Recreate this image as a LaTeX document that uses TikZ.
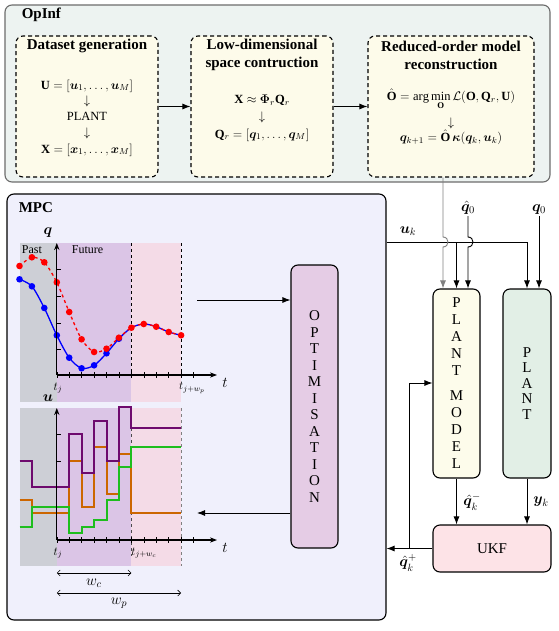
\RequirePackage{fix-cm}
\documentclass[tikz,border=0pt]{standalone}
\usepackage{amsmath}
\usepackage{bm}
\usepackage{fontspec}
\setmainfont{Liberation Serif}
\usetikzlibrary{arrows.meta}

\definecolor{opinffill}{RGB}{237,243,241}
\definecolor{stagefill}{RGB}{253,251,234}
\definecolor{mpcfill}{RGB}{240,240,252}
\definecolor{optfill}{RGB}{229,204,229}
\definecolor{modelfill}{RGB}{253,252,235}
\definecolor{plantfill}{RGB}{226,239,230}
\definecolor{ukffill}{RGB}{253,227,231}
\definecolor{pastband}{RGB}{205,207,214}
\definecolor{futband}{RGB}{219,197,230}
\definecolor{horband}{RGB}{244,219,231}
\definecolor{upurple}{RGB}{110,10,110}
\definecolor{uorange}{RGB}{204,102,0}
\definecolor{ugreen}{RGB}{30,190,30}

\begin{document}
\begin{tikzpicture}[
    x=1pt, y=-1pt,
    >={Latex[length=8pt,width=6pt]},
    line width=0.9pt,
    panel/.style={rectangle, draw, rounded corners=7pt, line width=1.1pt},
    stage/.style={rectangle, draw, dash pattern=on 4pt off 3pt, rounded corners=7pt, fill=stagefill, line width=1.1pt},
    block/.style={rectangle, draw, rounded corners=7pt, line width=1.1pt, align=center, font=\fontsize{15}{16.5}\selectfont},
    heading/.style={font=\fontsize{15}{18}\selectfont\bfseries, align=center},
    eq/.style={font=\fontsize{12.5}{15}\selectfont},
    lbl/.style={font=\fontsize{15}{18}\selectfont, inner sep=1pt},
    ticklbl/.style={font=\fontsize{12}{14}\selectfont, inner sep=1pt},
    signal/.style={line width=2pt}
]
    \useasboundingbox (0,0) rectangle (558,631);

    % OpInf
    \node[panel, draw=gray!85!black, fill=opinffill, minimum width=545pt, minimum height=177pt] (opinf) at (277.5,93.5) {};
    \node[heading, anchor=west] (opinflbl) at (18,15) {OpInf};

    \node[stage, minimum width=142pt, minimum height=141pt] (gen) at (87,106.5) {};
    \node[stage, minimum width=142pt, minimum height=141pt] (space) at (262,106.5) {};
    \node[stage, minimum width=166pt, minimum height=141pt] (rom) at (451,106.5) {};

    \node[heading] (genttl) at (87,46) {Dataset generation};
    \node[eq] (genu) at (87,86) {$\mathbf{U} = [\bm{u}_1, \ldots, \bm{u}_M]$};
    \node[eq] (genar1) at (87,101) {$\downarrow$};
    \node[eq] (genplant) at (87,116) {PLANT};
    \node[eq] (genar2) at (87,133) {$\downarrow$};
    \node[eq] (genx) at (87,150) {$\mathbf{X} = [\bm{x}_1, \ldots, \bm{x}_M]$};

    \node[heading] (spacettl) at (262,55) {Low-dimensional\\space contruction};
    \node[eq] (spacex) at (262,100) {$\mathbf{X} \approx \bm{\Phi}_r \mathbf{Q}_r$};
    \node[eq] (spacear) at (262,117) {$\downarrow$};
    \node[eq] (spaceq) at (262,135) {$\mathbf{Q}_r = [\bm{q}_1, \ldots, \bm{q}_M]$};

    \node[heading] (romttl) at (451,55) {Reduced-order model\\reconstruction};
    \node[eq] (romo) at (451,99) {$\hat{\mathbf{O}} = \arg\min\limits_{\mathbf{O}} \mathcal{L}(\mathbf{O}, \mathbf{Q}_r, \mathbf{U})$};
    \node[eq] (romar) at (451,123) {$\downarrow$};
    \node[eq] (romq) at (451,137) {$\bm{q}_{k+1} = \hat{\mathbf{O}}\,\bm{\kappa}(\bm{q}_k, \bm{u}_k)$};

    \draw[->] (gen) -- (space);
    \draw[->] (space) -- (rom);

    % MPC
    \node[panel, fill=mpcfill, minimum width=379pt, minimum height=426pt] (mpc) at (196.5,407) {};
    \node[heading, anchor=west] (mpclbl) at (15,208) {MPC};

    % q plot
    \fill[pastband] (19.5,243) rectangle (56.8,402);
    \fill[futband] (56.8,243) rectangle (131.4,402);
    \fill[horband] (131.4,243) rectangle (181.1,402);
    \draw[dashed, line width=0.8pt] (131.4,243) -- (131.4,378);
    \draw[dashed, line width=0.8pt] (181.1,243) -- (181.1,378);
    \foreach \i in {0,...,11}
        \draw[line width=0.5pt] (56.8+12.43*\i,372) -- ++(0,6);
    \foreach \ty in {269,296,323,349}
        \draw[line width=0.5pt] (56.8,\ty) -- ++(4,0);
    \draw[blue, line width=1.3pt] plot[smooth] coordinates {(19.5,279.3) (31.9,286.3) (44.3,308) (56.8,335.3) (69.2,357.7) (81.6,368.3) (94.1,365.3) (106.5,353.3) (118.9,338.7) (131.4,327.7) (143.8,324) (156.2,326.7) (168.7,332) (181.1,335.3)};
    \draw[red, dashed, line width=1.3pt] plot[smooth] coordinates {(19.5,266) (31.9,257.3) (44.3,262.3) (56.8,282.3) (69.2,312) (81.6,339.3) (94.1,352) (106.5,348.7) (118.9,337.7) (131.4,327.7) (143.8,324) (156.2,326.7) (168.7,332) (181.1,335.3)};
    \foreach \px/\py in {19.5/279.3, 31.9/286.3, 44.3/308, 56.8/335.3, 69.2/357.7, 81.6/368.3, 94.1/365.3, 106.5/353.3, 118.9/338.7}
        \fill[blue] (\px,\py) circle (3.3pt);
    \foreach \px/\py in {19.5/266, 31.9/257.3, 44.3/262.3, 56.8/282.3, 69.2/312, 81.6/339.3, 94.1/352, 106.5/348.7, 118.9/337.7, 131.4/327.7, 143.8/324, 156.2/326.7, 168.7/332, 181.1/335.3}
        \fill[red] (\px,\py) circle (3.3pt);
    \draw[-{Stealth[length=7pt]}, line width=1.3pt] (56.8,375) -- (217,375);
    \draw[-{Stealth[length=7pt]}, line width=1.3pt] (56.8,375) -- (56.8,243);
    \node[lbl] (qaxis) at (48,233) {$\bm{q}$};
    \node[lbl] (taxisq) at (225,383) {$t$};
    \node[ticklbl] (past) at (32,250) {Past};
    \node[ticklbl] (future) at (87.5,250) {Future};
    \node[ticklbl] (tjq) at (58,388) {$t_j$};
    \node[ticklbl] (tjwp) at (192,388) {$t_{j+w_p}$};

    % u plot
    \fill[pastband] (19.5,408) rectangle (56.8,566);
    \fill[futband] (56.8,408) rectangle (131.4,566);
    \fill[horband] (131.4,408) rectangle (181.1,566);
    \draw[dashed, line width=0.8pt, gray!60!black] (131.4,428) -- (131.4,556);
    \draw[dashed, line width=0.8pt, gray] (181.1,408) -- (181.1,566);
    \foreach \i in {0,...,11}
        \draw[line width=0.5pt] (56.8+12.43*\i,537) -- ++(0,6);
    \foreach \ty in {434,461}
        \draw[line width=0.5pt] (56.8,\ty) -- ++(4,0);
    \draw[signal, uorange] (19.5,500) -| (31.9,513.3) -| (69.2,460.7) -| (81.6,506.7) -| (94.1,447.3) -| (106.5,494) -| (118.9,454) -| (131.4,513.3) -- (181.1,513.3);
    \draw[signal, ugreen] (19.5,526.7) -| (31.9,506.7) -| (69.2,533.3) -| (81.6,526.7) -| (94.1,520) -| (106.5,500) -| (118.9,467.3) -| (131.4,447.3) -- (181.1,447.3);
    \draw[signal, upurple] (19.5,460.7) -| (31.9,487.3) -| (69.2,434) -| (81.6,473.3) -| (94.1,421) -| (106.5,460.7) -| (118.9,407.3) -| (131.4,427.7) -- (181.1,427.7);
    \draw[-{Stealth[length=7pt]}, line width=1.3pt] (56.8,540) -- (217,540);
    \draw[-{Stealth[length=7pt]}, line width=1.3pt] (56.8,540) -- (56.8,408);
    \node[lbl] (uaxis) at (48,398) {$\bm{u}$};
    \node[lbl] (taxisu) at (225,548) {$t$};
    \node[ticklbl] (tju) at (58,553) {$t_j$};
    \node[ticklbl] (tjwc) at (144,553) {$t_{j+w_c}$};

    % horizons
    \draw[{Straight Barb[length=3pt]}-{Straight Barb[length=3pt]}, line width=0.6pt] (56.8,573) -- (131.4,573);
    \node[lbl] (wc) at (94,583) {$w_c$};
    \draw[{Straight Barb[length=3pt]}-{Straight Barb[length=3pt]}, line width=0.6pt] (56.8,593) -- (181.1,593);
    \node[lbl] (wp) at (119,603) {$w_p$};

    % Optimisation
    \node[block, fill=optfill, minimum width=47pt, minimum height=283pt] (opt) at (314.5,406.5) {O\\P\\T\\I\\M\\I\\S\\A\\T\\I\\O\\N};
    \coordinate (qout) at (197,300);
    \coordinate (uin) at (197,513);
    \draw[->] (qout) -- (qout -| opt.west);
    \draw[->] (uin -| opt.west) -- (uin);

    % Plant model, plant and UKF
    \node[block, fill=modelfill, minimum width=47pt, minimum height=189pt, font=\fontsize{15}{17}\selectfont] (pm) at (456.5,383.5) {P\\L\\A\\N\\T\\[8pt]M\\O\\D\\E\\L};
    \node[block, fill=plantfill, minimum width=48pt, minimum height=189pt, font=\fontsize{15}{15.5}\selectfont] (plant) at (527,383.5) {P\\L\\A\\N\\T};
    \node[block, fill=ukffill, minimum width=118pt, minimum height=47pt] (ukf) at (492,548.5) {UKF};

    % Connections
    \node[lbl] (uklbl) at (408,231) {$\bm{u}_k$};
    \node[lbl, anchor=south] (qh0) at (468,216) {$\hat{\bm{q}}_0$};
    \node[lbl, anchor=south] (q0) at (539,216) {$\bm{q}_0$};
    \coordinate (gx) at (443,242);
    \coordinate (hx) at (468,242);
    \draw[->] (mpc.east |- gx) -- (plant.north |- gx) -- (plant.north);
    \draw[->] (pm.north |- gx) -- (pm.north);
    \draw[->, gray] (rom.south -| gx) -- ([yshift=5pt]gx) to[out=0, in=0, looseness=1.7] ([yshift=-5pt]gx) -- (gx |- pm.north);
    \draw[->] (qh0.south) -- ([yshift=5pt]hx) to[out=0, in=0, looseness=1.7] ([yshift=-5pt]hx) -- (hx |- pm.north);
    \draw[->] (q0.south) -- (q0.south |- plant.north);

    \draw[->] (pm.south) -- (pm.south |- ukf.north);
    \node[lbl, anchor=west] (qminus) at (462,502) {$\hat{\bm{q}}_k^-$};
    \draw[->] (plant.south) -- (plant.south |- ukf.north);
    \node[lbl, anchor=west] (yk) at (532,502) {$\bm{y}_k$};

    \draw[->] (ukf.west) -- (ukf.west -| mpc.east);
    \node[lbl, anchor=north] (qplus) at (408,553) {$\hat{\bm{q}}_k^+$};
    \coordinate (fb) at (409,383);
    \draw[->] (fb |- ukf.west) -- (fb) -- (fb -| pm.west);

\end{tikzpicture}
\end{document}
